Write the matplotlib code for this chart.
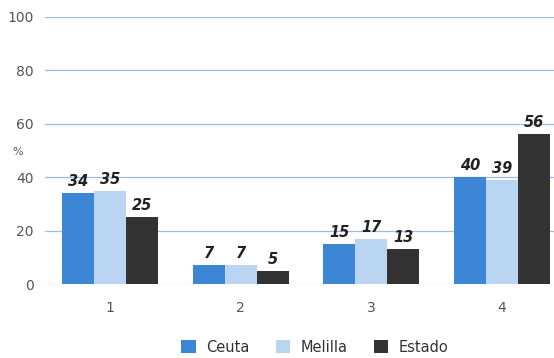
import matplotlib.pyplot as plt
import numpy as np

groups = ["1", "2", "3", "4"]
ceuta = [34, 7, 15, 40]
melilla = [35, 7, 17, 39]
estado = [25, 5, 13, 56]
series = [("Ceuta", ceuta, "#3d86d6"),
          ("Melilla", melilla, "#b9d5f2"),
          ("Estado", estado, "#333333")]

fig = plt.figure(figsize=(5.54, 3.58), dpi=100)
ax = fig.add_axes([45 / 554, 74 / 358, 1 - 45 / 554, 267 / 358])

x = np.arange(len(groups))
w = 0.246
for i, (name, vals, col) in enumerate(series):
    pos = x + (i - 1) * w
    ax.bar(pos, vals, w, color=col, label=name, zorder=3)
    for p, v in zip(pos, vals):
        ax.text(p, v + 1.5, str(v), ha="center", va="bottom",
                fontsize=10.5, fontweight="bold", style="italic",
                color="#222222", zorder=4)

ax.set_xlim(-0.5, 3.4)
ax.set_ylim(0, 100)
ax.set_yticks([0, 20, 40, 60, 80, 100])
ax.set_xticks(x)
ax.set_xticklabels(groups)
ax.grid(axis="y", color="#9dbbe6", linewidth=0.9, zorder=0)
for s in ax.spines.values():
    s.set_visible(False)
ax.tick_params(length=0, labelsize=10, labelcolor="#555555")
ax.tick_params(axis="x", pad=12)
ax.tick_params(axis="y", pad=8)
fig.text(12 / 554, 1 - 152 / 358, "%", fontsize=8, color="#555555",
         ha="left", va="center")

ax.legend(loc="upper center", bbox_to_anchor=(0.53, -0.16), ncol=3,
          frameon=False, fontsize=10.5, handlelength=1.0, handleheight=1.0,
          columnspacing=1.8, handletextpad=0.7, labelcolor="#333333")

fig.savefig("out.png", dpi=100)
